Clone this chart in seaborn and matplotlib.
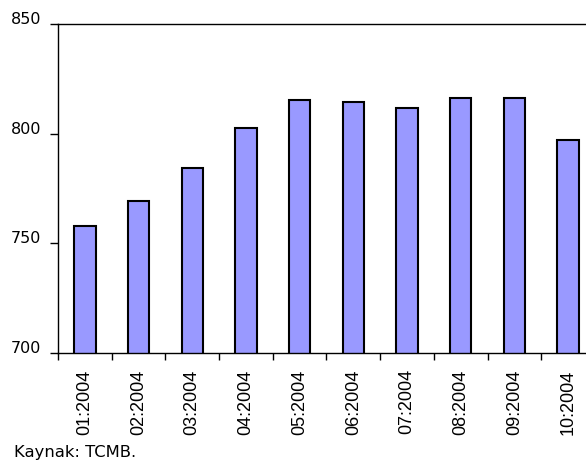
import matplotlib
matplotlib.use("Agg")
import matplotlib.pyplot as plt
import matplotlib.transforms as mtransforms
import numpy as np
import pandas as pd
import seaborn as sns

# monthly values
months = ["01:2004", "02:2004", "03:2004", "04:2004", "05:2004",
          "06:2004", "07:2004", "08:2004", "09:2004", "10:2004"]
values = [758.0, 769.2, 784.4, 802.7, 815.5, 814.5, 811.8, 816.3, 816.3, 797.3]
yticks = [700, 750, 800, 850]
source_note = "Kaynak: TCMB."

df = pd.DataFrame({"month": months, "value": values})

sns.set_style("white")
plt.rcParams["font.family"] = ["DejaVu Sans"]
plt.rcParams["text.color"] = "black"

fig = plt.figure(figsize=(5.86, 4.65), dpi=100)
ax = fig.add_axes([58 / 586, 1 - 352.7 / 465, (595 - 58) / 586, (352.7 - 24.3) / 465])

sns.barplot(data=df, x="month", y="value", color="#9999FF", saturation=1,
            edgecolor="black", linewidth=1.5, width=0.4, ax=ax)

ax.set_ylim(700, 850)
ax.set_xlim(-0.5, len(months) - 0.5)
ax.set_yticks(yticks)
ax.set_xlabel("")
ax.set_ylabel("")

for side in ["left", "bottom", "top"]:
    ax.spines[side].set_visible(True)
    ax.spines[side].set_color("black")
    ax.spines[side].set_linewidth(1.0)
ax.spines["right"].set_visible(False)

ax.tick_params(axis="y", left=True, length=6, width=1, direction="out",
               pad=6, labelsize=11.5, colors="black")
ax.tick_params(axis="x", which="major", length=0, pad=12, labelsize=13,
               labelrotation=90, labelcolor="black")
ax.set_xticks(np.arange(-0.5, len(months), 1), minor=True)
ax.tick_params(axis="x", which="minor", bottom=True, length=5, width=1,
               direction="out", color="black")

for lab in ax.get_xticklabels():
    lab.set_fontfamily(["Liberation Sans"])
    lab.set_va("top")

offset = mtransforms.ScaledTranslation(0, 6 / 100, fig.dpi_scale_trans)
for lab in ax.get_yticklabels():
    lab.set_transform(lab.get_transform() + offset)

fig.text(14 / 586, 1 - 452 / 465, source_note, fontsize=11.8, va="center",
         ha="left", color="black")

fig.savefig("out.png", dpi=100)
